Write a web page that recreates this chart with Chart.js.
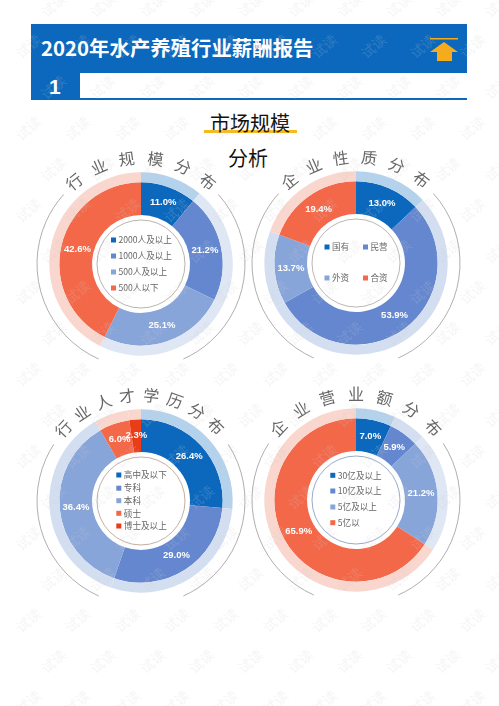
<!DOCTYPE html>
<html>
<head>
<meta charset="utf-8">
<script src="https://cdn.jsdelivr.net/npm/chart.js@4"></script>
<style>
body { margin: 0; background: #fff; width: 499px; height: 706px; overflow: hidden; position: relative; font-family: "Noto Sans CJK SC", sans-serif; }
div, canvas, svg { position: absolute; }
#head { left: 31px; top: 24px; width: 436px; height: 49px; background: #0b68bd; }
#title { left: 41px; top: 32px; color: #fff; font-size: 20.4px; font-weight: 700; line-height: 30px; white-space: nowrap; }
#tab { left: 31px; top: 73px; width: 49px; height: 27px; background: #0b68bd; color: #fff; font: bold 21px "Liberation Sans"; line-height: 27px; text-indent: 18px; }
#rule { left: 31px; top: 98px; width: 436px; height: 2px; background: #0b68bd; }
#sub1 { left: 150px; width: 200px; top: 108px; text-align: center; font-size: 20px; line-height: 30px; color: #111; }
#sub2 { left: 148px; width: 200px; top: 143px; text-align: center; font-size: 20px; line-height: 30px; color: #111; }
#under { left: 204px; top: 130px; width: 93px; height: 3px; background: #f5b921; }
.wm { color: rgba(205,205,205,.2); font-size: 14px; line-height: 18px; white-space: nowrap; transform: translate(-50%,-50%) rotate(-40deg); }
</style>
</head>
<body>
<div id="under"></div>
<div id="sub1">市场规模</div>
<div id="sub2">分析</div>
<div id="head"></div>
<div id="title">2020年水产养殖行业薪酬报告</div>
<div id="tab">1</div>
<div id="rule"></div>
<svg style="left:428px;top:36px" width="32" height="28">
  <rect x="2" y="2" width="28" height="1.5" fill="#f5ab1b"/>
  <polygon points="16,6 30,16 24,16 24,25 9,25 9,16 2,16" fill="#f5ab1b"/>
</svg>
<script>
// chart values
var scaleLabels = ["2000人及以上", "1000人及以上", "500人及以上", "500人以下"];
var scaleValues = [11.0, 21.2, 25.1, 42.6];
var natureLabels = ["国有", "民营", "外资", "合资"];
var natureValues = [13.0, 53.9, 13.7, 19.4];
var eduLabels = ["高中及以下", "专科", "本科", "硕士", "博士及以上"];
var eduValues = [26.4, 29.0, 36.4, 6.0, 2.3];
var revenueLabels = ["30亿及以上", "10亿及以上", "5亿及以上", "5亿以"];
var revenueValues = [7.0, 5.9, 21.2, 65.9];

var blue1 = "#0b68bd", blue2 = "#6487cf", blue3 = "#88a5da", red1 = "#f4684a", red2 = "#ea3c16";
var pale1 = "#b5d2ec", pale2 = "#d3dff1", pale3 = "#dfe6f4", pale4 = "#f9d6ce", pale5 = "#f9d6ce";

var FONT = '"Noto Sans CJK SC", sans-serif';
var SIZE = 240; // every canvas is this big, centred on its doughnut

function rad(d) { return d * Math.PI / 180; }

// draws the bits of the figure around the doughnut
var decorate = {
  id: 'decorate',
  afterDraw: function(chart, args, opts) {
    var ctx = chart.ctx, cx = chart.width / 2, cy = chart.height / 2;
    ctx.save();

    // grey arcs left and right of the ring
    ctx.strokeStyle = "#9a9a9a";
    ctx.lineWidth = 0.8;
    ctx.beginPath();
    ctx.arc(cx, cy, 104, rad(90 + opts.bottomGap), rad(270 - opts.topGap));
    ctx.stroke();
    ctx.beginPath();
    ctx.arc(cx, cy, 104, rad(-90 + opts.topGap), rad(90 - opts.bottomGap));
    ctx.stroke();

    // thin circle in the hole
    ctx.strokeStyle = opts.circle;
    ctx.lineWidth = 0.8;
    ctx.beginPath();
    ctx.arc(cx, cy, 44, 0, Math.PI * 2);
    ctx.stroke();

    // title along the ring
    ctx.fillStyle = "#666";
    ctx.font = '16px ' + FONT;
    ctx.textAlign = 'center';
    ctx.textBaseline = 'middle';
    var chars = opts.title.split('');
    chars.forEach(function(c, i) {
      var a = opts.titleFrom + (opts.titleTo - opts.titleFrom) * i / (chars.length - 1);
      ctx.save();
      ctx.translate(cx, cy);
      ctx.rotate(rad(a));
      ctx.fillText(c, 0, -106);
      ctx.restore();
    });

    // percent labels, at the middle of each slice of the inner ring
    var ds = chart.data.datasets[1];
    var meta = chart.getDatasetMeta(1);
    ctx.fillStyle = "#fff";
    ctx.font = 'bold 9.5px "Liberation Sans"';
    meta.data.forEach(function(el, i) {
      var p = el.tooltipPosition();
      ctx.fillText(ds.data[i].toFixed(1) + '%', p.x, p.y);
    });

    // legend in the hole
    ctx.font = '8.6px ' + FONT;
    ctx.textAlign = 'left';
    chart.data.labels.forEach(function(t, i) {
      var p = opts.legend[i];
      ctx.fillStyle = ds.backgroundColor[i];
      ctx.fillRect(cx + p[0], cy + p[1] - 2.5, 5, 5);
      ctx.fillStyle = "#666";
      ctx.fillText(t, cx + p[0] + 7.5, cy + p[1]);
    });
    ctx.restore();
  }
};

function addChart(centerX, centerY, labels, values, colors, paleColors, deco) {
  var cv = document.createElement('canvas');
  cv.width = SIZE;
  cv.height = SIZE;
  cv.style.left = (centerX - SIZE / 2) + 'px';
  cv.style.top = (centerY - SIZE / 2) + 'px';
  document.body.appendChild(cv);
  return new Chart(cv.getContext('2d'), {
    type: 'doughnut',
    plugins: [decorate],
    data: {
      labels: labels,
      datasets: [
        { data: values, backgroundColor: paleColors, borderWidth: 0, weight: 10 },
        { data: values, backgroundColor: colors, borderWidth: 0, weight: 32.7 }
      ]
    },
    options: {
      responsive: false,
      animation: false,
      radius: 91.7,
      cutout: '53.4%',
      plugins: { legend: { display: false }, tooltip: { enabled: false }, decorate: deco }
    }
  });
}

addChart(140.7, 264.3, scaleLabels, scaleValues,
  [blue1, blue2, blue3, red1], [pale1, pale3, pale3, pale4],
  { title: "行业规模分布", titleFrom: -39, titleTo: 39, topGap: 48, bottomGap: 24, circle: "#a89f99",
    legend: [[-30, -24], [-30, -8], [-30, 8], [-30, 24]] });

addChart(355.7, 263.3, natureLabels, natureValues,
  [blue1, blue2, blue3, red1], [pale1, pale2, pale2, pale4],
  { title: "企业性质分布", titleFrom: -39, titleTo: 38, topGap: 48, bottomGap: 24, circle: "#a9a49f",
    legend: [[-31.5, -16], [7, -16], [-31.5, 15], [7, 15]] });

addChart(140.7, 501, eduLabels, eduValues,
  [blue1, blue2, blue3, red1, red2], [pale1, pale2, pale2, pale4, pale5],
  { title: "行业人才学历分布", titleFrom: -47, titleTo: 45, topGap: 57, bottomGap: 24, circle: "#b09a8e",
    legend: [[-24.7, -26], [-24.7, -12.8], [-24.7, -0.3], [-24.7, 12.3], [-24.7, 25]] });

addChart(355.7, 500, revenueLabels, revenueValues,
  [blue1, blue2, blue3, red1], [pale1, pale2, pale3, pale4],
  { title: "企业营业额分布", titleFrom: -47, titleTo: 47, topGap: 57, bottomGap: 24, circle: "#7f96ba",
    legend: [[-25.7, -24.7], [-25.7, -9], [-25.7, 7], [-25.7, 22.7]] });

// watermark, on top of everything
for (var r = -1; r < 18; r++) {
  var y = 5 + 41 * r;
  var start = r % 2 === 0 ? 53 : 28;
  for (var c = 0; c < 10; c++) {
    var w = document.createElement('div');
    w.className = 'wm';
    w.textContent = '试读';
    w.style.left = (start + 49.3 * c) + 'px';
    w.style.top = y + 'px';
    document.body.appendChild(w);
  }
}
</script>
</body>
</html>
